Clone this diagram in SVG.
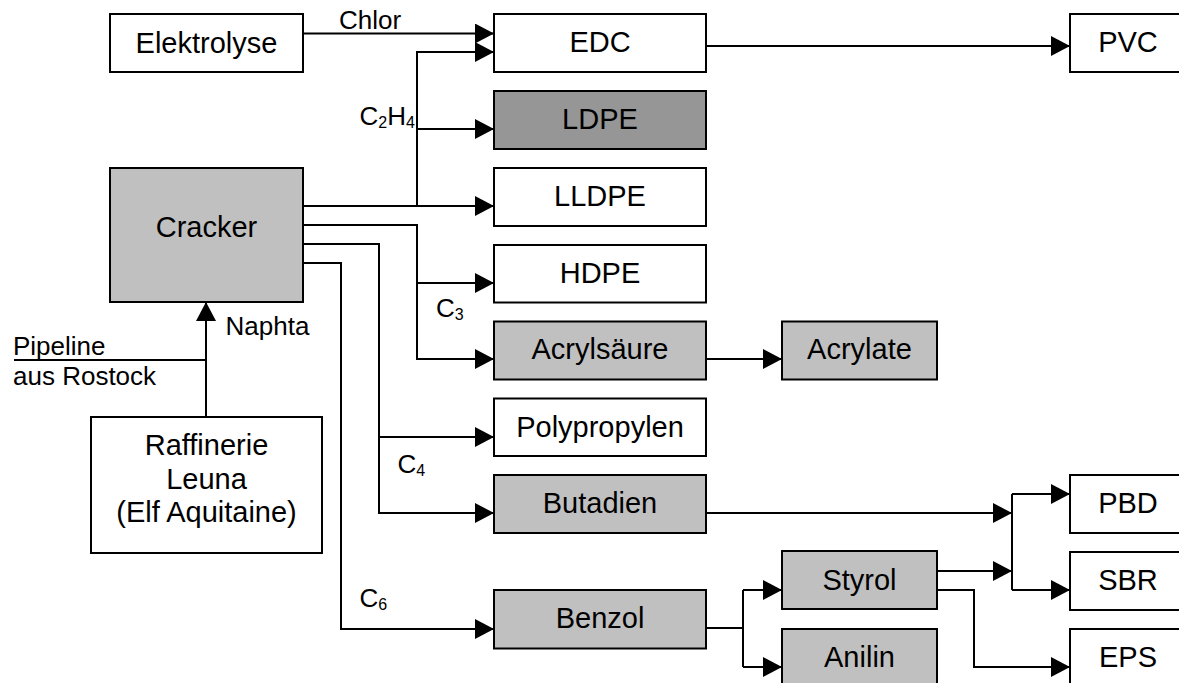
<svg xmlns="http://www.w3.org/2000/svg" width="1179" height="683" viewBox="0 0 1179 683">
<style>
  .box { fill: #ffffff; stroke: #000; stroke-width: 2; }
  .grey { fill: #c0c0c0; }
  .dark { fill: #969696; }
  .t { font-family: "Liberation Sans", Arial, sans-serif; font-size: 29px; fill: #000; text-anchor: middle; }
  .lbl { font-family: "Liberation Sans", Arial, sans-serif; font-size: 26px; fill: #000; }
  .sub { font-size: 16px; }
  .c { fill: none; stroke: #000; stroke-width: 2; }
  .a { marker-end: url(#arr); }
</style>
<defs>
  <marker id="arr" markerUnits="userSpaceOnUse" markerWidth="20" markerHeight="20" refX="19" refY="10" orient="auto" viewBox="0 0 20 20">
    <path d="M0,0 L19,10 L0,20 z" fill="#000"/>
  </marker>
</defs>
<rect width="1179" height="683" fill="#ffffff"/>

<g id="connectors">
  <path class="c a" d="M303,33.5 H494"/>
  <path class="c a" d="M303,206 H494"/>
  <path class="c a" d="M417,206 V52 H494"/>
  <path class="c a" d="M417,129 H494"/>
  <path class="c a" d="M303,225 H417 V359 H494"/>
  <path class="c a" d="M417,283 H494"/>
  <path class="c a" d="M303,244 H379 V513 H494"/>
  <path class="c a" d="M379,437 H494"/>
  <path class="c a" d="M303,263 H341 V629 H494"/>
  <path class="c a" d="M706,46 H1070"/>
  <path class="c a" d="M706,359 H782"/>
  <path class="c a" d="M706,513 H1012"/>
  <path class="c" d="M1012,494 V590"/>
  <path class="c a" d="M1012,494 H1070"/>
  <path class="c a" d="M1012,590 H1070"/>
  <path class="c a" d="M937,571 H1012"/>
  <path class="c a" d="M937,590 H974 V667 H1070"/>
  <path class="c" d="M706,628 H743"/>
  <path class="c" d="M743,590 V667"/>
  <path class="c a" d="M743,590 H782"/>
  <path class="c a" d="M743,667 H782"/>
  <path class="c a" d="M206,417 V302"/>
  <path class="c" d="M14,360 H206"/>
</g>

<g id="labels">
  <text class="lbl" x="339" y="29">Chlor</text>
  <text class="lbl" x="359.5" y="125">C<tspan class="sub" dy="3">2</tspan><tspan dy="-3">H</tspan><tspan class="sub" dy="3">4</tspan></text>
  <text class="lbl" x="436" y="317">C<tspan class="sub" dy="3">3</tspan></text>
  <text class="lbl" x="397.5" y="472.5">C<tspan class="sub" dy="3">4</tspan></text>
  <text class="lbl" x="359.5" y="606.5">C<tspan class="sub" dy="3">6</tspan></text>
  <text class="lbl" x="225.5" y="335">Naphta</text>
  <text class="lbl" x="13" y="355">Pipeline</text>
  <text class="lbl" x="13" y="385">aus Rostock</text>
</g>

<g id="elektrolyse"><rect class="box" x="110" y="14" width="193" height="58"/><text class="t" x="206.5" y="52.5">Elektrolyse</text></g>
<g id="cracker"><rect class="box grey" x="110" y="168" width="193" height="134"/><text class="t" x="206.5" y="237">Cracker</text></g>
<g id="raffinerie"><rect class="box" x="91" y="417" width="231" height="136"/>
  <text class="t" x="206.5" y="454.5">Raffinerie</text>
  <text class="t" x="206.5" y="488.5">Leuna</text>
  <text class="t" x="206.5" y="522">(Elf Aquitaine)</text>
</g>
<g id="edc"><rect class="box" x="494" y="14" width="212" height="58"/><text class="t" x="600" y="52">EDC</text></g>
<g id="ldpe"><rect class="box dark" x="494" y="91" width="212" height="58"/><text class="t" x="600" y="129">LDPE</text></g>
<g id="lldpe"><rect class="box" x="494" y="168" width="212" height="58"/><text class="t" x="600" y="206">LLDPE</text></g>
<g id="hdpe"><rect class="box" x="494" y="245" width="212" height="57.5"/><text class="t" x="600" y="283">HDPE</text></g>
<g id="acrylsaeure"><rect class="box grey" x="494" y="321.5" width="212" height="58"/><text class="t" x="600" y="359">Acrylsäure</text></g>
<g id="polypropylen"><rect class="box" x="494" y="398.5" width="212" height="57.5"/><text class="t" x="600" y="436.5">Polypropylen</text></g>
<g id="butadien"><rect class="box grey" x="494" y="475" width="212" height="58"/><text class="t" x="600" y="513">Butadien</text></g>
<g id="benzol"><rect class="box grey" x="494" y="590" width="212" height="58.5"/><text class="t" x="600" y="628">Benzol</text></g>
<g id="acrylate"><rect class="box grey" x="782" y="321.5" width="155" height="58"/><text class="t" x="859.5" y="359">Acrylate</text></g>
<g id="styrol"><rect class="box grey" x="782" y="551" width="155" height="58"/><text class="t" x="859.5" y="589.5">Styrol</text></g>
<g id="anilin"><rect class="box grey" x="782" y="629" width="155" height="60"/><text class="t" x="859.5" y="667">Anilin</text></g>
<g id="pvc"><rect class="box" x="1070" y="14" width="130" height="58"/><text class="t" x="1128" y="52">PVC</text></g>
<g id="pbd"><rect class="box" x="1070" y="475" width="130" height="58"/><text class="t" x="1128" y="513">PBD</text></g>
<g id="sbr"><rect class="box" x="1070" y="552" width="130" height="58"/><text class="t" x="1128" y="590">SBR</text></g>
<g id="eps"><rect class="box" x="1070" y="629" width="130" height="60"/><text class="t" x="1128" y="667">EPS</text></g>
</svg>
